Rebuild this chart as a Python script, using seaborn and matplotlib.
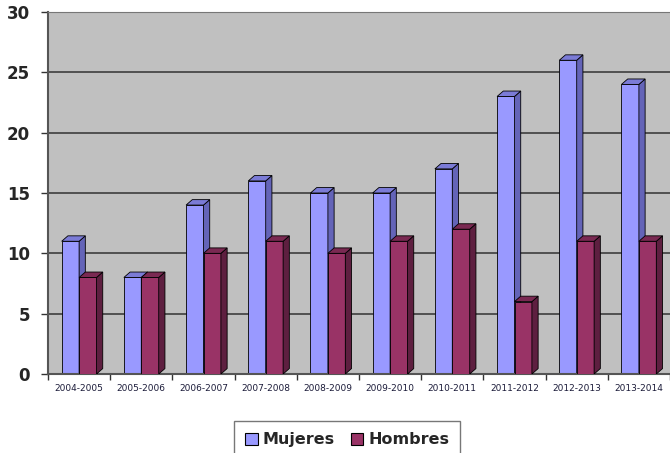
import numpy as np
import pandas as pd
import seaborn as sns
import matplotlib.pyplot as plt
from matplotlib.patches import Polygon

# datos
temporadas = ['2004-2005', '2005-2006', '2006-2007', '2007-2008', '2008-2009',
              '2009-2010', '2010-2011', '2011-2012', '2012-2013', '2013-2014']
mujeres = [11, 8, 14, 16, 15, 15, 17, 23, 26, 24]
hombres = [8, 8, 10, 11, 10, 11, 12, 6, 11, 11]
series = ['Mujeres', 'Hombres']
colores = ['#9999ff', '#993366']
sombras = ['#6464b8', '#5e1f40']
topes = ['#7b7bd6', '#7a2952']

df = pd.DataFrame({
    'Temporada': temporadas * 2,
    'Valor': mujeres + hombres,
    'Sexo': ['Mujeres'] * len(mujeres) + ['Hombres'] * len(hombres),
})

sns.set_style('white')
fig = plt.figure(figsize=(6.7, 4.53), dpi=100)
ax = fig.add_axes([48 / 670, 79 / 453, 622 / 670, 362 / 453])
ax.set_facecolor('#c0c0c0')

sns.barplot(data=df, x='Temporada', y='Valor', hue='Sexo', hue_order=series,
            palette=colores, saturation=1, width=0.56, edgecolor='black',
            linewidth=0.6, ax=ax, legend=False)

# efecto 3D: caras laterales y superiores a partir de las barras
dx, dy = 0.1, 0.45
for k, cont in enumerate(ax.containers):
    z = 2 + k
    for p in cont.patches:
        p.set_zorder(z)
        x0 = p.get_x()
        x1 = x0 + p.get_width()
        h = p.get_height()
        lado = Polygon([(x1, 0), (x1 + dx, dy), (x1 + dx, h + dy), (x1, h)],
                       closed=True, facecolor=sombras[k], edgecolor='black',
                       linewidth=0.6, zorder=z)
        tapa = Polygon([(x0, h), (x0 + dx, h + dy), (x1 + dx, h + dy), (x1, h)],
                       closed=True, facecolor=topes[k], edgecolor='black',
                       linewidth=0.6, zorder=z)
        ax.add_patch(lado)
        ax.add_patch(tapa)

ax.set_ylim(0, 30)
ax.set_xlim(-0.5, 9.5)
ax.set_yticks(range(0, 31, 5))
ax.yaxis.grid(True, color='#333333', linewidth=1.1)
ax.set_axisbelow(True)

ax.set_xlabel('')
ax.set_ylabel('')
ax.tick_params(axis='y', labelsize=12, length=5, width=1, color='#333333', left=True, pad=8)
for t in ax.get_yticklabels():
    t.set_fontweight('bold')
ax.tick_params(axis='x', which='major', length=0, labelsize=6.5, labelcolor='#1c1c3a', pad=7)
ax.set_xticks(np.arange(-0.5, 10, 1), minor=True)
ax.tick_params(axis='x', which='minor', length=4, width=1, color='#333333', bottom=True)

for s in ['left', 'bottom']:
    ax.spines[s].set_color('#555555')
    ax.spines[s].set_linewidth(1.5)
ax.spines['top'].set_color('#777777')
ax.spines['right'].set_visible(False)

manijas = [plt.Rectangle((0, 0), 1, 1, facecolor=c, edgecolor='black', linewidth=0.8) for c in colores]
leg = fig.legend(manijas, series, loc='upper center', bbox_to_anchor=(0.518, 0.075 + 6 / 453),
                 ncol=2, frameon=True, fancybox=False, edgecolor='#555555',
                 prop={'weight': 'bold', 'size': 11.5}, handlelength=0.8, handleheight=0.8,
                 handletextpad=0.3, columnspacing=1.0, borderpad=0.7)

fig.savefig('out.png', dpi=100)
